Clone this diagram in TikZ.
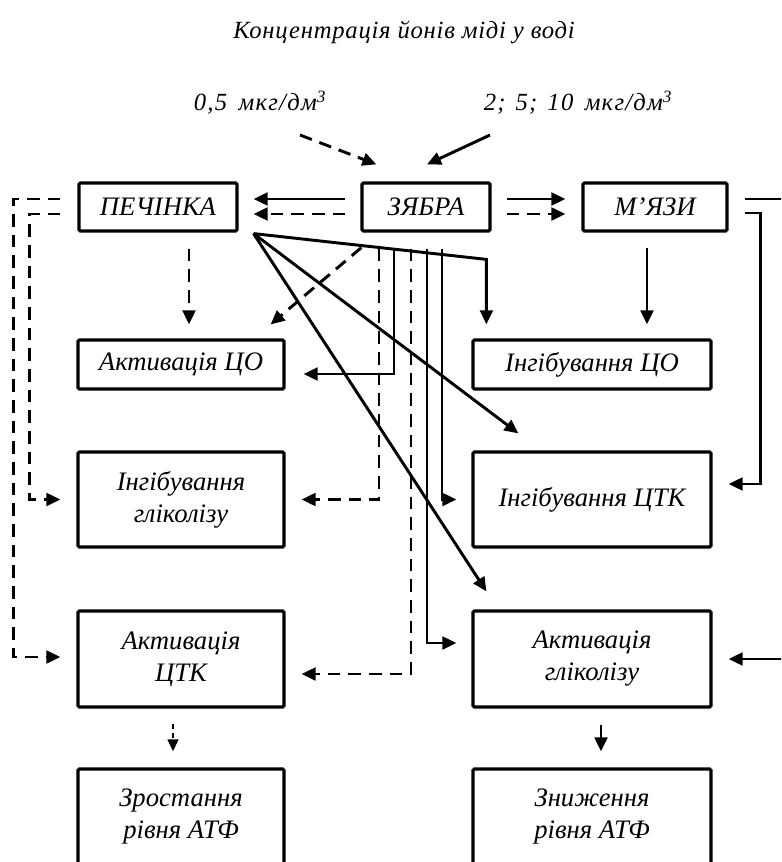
\documentclass[tikz,border=0pt]{standalone}
\usepackage{fontspec}
\setmainfont{Liberation Serif}
\usetikzlibrary{arrows.meta,calc}

\newcommand{\blokfont}{\fontsize{20}{24}\selectfont\itshape}
\newcommand{\ttlfont}{\fontsize{18.5}{22}\selectfont\itshape\addfontfeature{LetterSpace=3}}
\newcommand{\lblfont}{\fontsize{18.5}{22}\selectfont\itshape\addfontfeature{LetterSpace=5}}

\tikzset{
  blok/.style={draw, line width=2.4pt, rounded corners=1pt, inner sep=0pt, align=center, font=\blokfont},
  lin/.style={line width=2.2pt, -{Triangle[length=10.5pt,width=9.5pt]}},
  dsh/.style={line width=2.2pt, dash pattern=on 9.5pt off 6pt},
  dshs/.style={line width=1.6pt, dash pattern=on 4pt off 3pt, -{Triangle[length=9pt,width=8pt]}},
}

\begin{document}
\begin{tikzpicture}[x=0.75pt,y=0.75pt,yscale=-1,xscale=1]
        \clip (0,0) rectangle (781,862);

        % texts on top
        \node [font=\ttlfont, anchor=base] (title) at (404,39) {Концентрація йонів міді у воді};
        \node [font=\lblfont, anchor=base] (low) at (260,111) {0,5\hspace{3pt} мкг/дм\textsuperscript{3}};
        \node [font=\lblfont, anchor=base] (high) at (578,111) {2;\hspace{2pt} 5;\hspace{2pt} 10\hspace{3pt} мкг/дм\textsuperscript{3}};
        \coordinate (lowend) at (300,135);
        \coordinate (highend) at (490,135);

        % organs
        \node [blok, minimum width=118.5pt, minimum height=36pt] (pech) at (158,207) {ПЕЧІНКА};
        \node [blok, minimum width=96pt, minimum height=36pt] (zyab) at (426,207) {ЗЯБРА};
        \node [blok, minimum width=108pt, minimum height=36pt] (myaz) at (655,207) {М'ЯЗИ};

        % effects
        \node [blok, minimum width=154.5pt, minimum height=36.75pt] (aktCO) at (181,364.5) {Активація ЦО};
        \node [blok, minimum width=178.5pt, minimum height=36.75pt] (ingCO) at (592,364.5) {Інгібування ЦО};
        \node [blok, minimum width=154.5pt, minimum height=71.25pt] (ingGl) at (181,499.5) {Інгібування\\гліколізу};
        \node [blok, minimum width=178.5pt, minimum height=71.25pt] (ingCTK) at (592,499.5) {Інгібування ЦТК};
        \node [blok, minimum width=154.5pt, minimum height=72pt] (aktCTK) at (181,659) {Активація\\ЦТК};
        \node [blok, minimum width=178.5pt, minimum height=72pt] (aktGl) at (592,659) {Активація\\гліколізу};
        \node [blok, minimum width=154.5pt, minimum height=71.25pt] (zrost) at (181,816.5) {Зростання\\рівня АТФ};
        \node [blok, minimum width=178.5pt, minimum height=71.25pt] (znyzh) at (592,816.5) {Зниження\\рівня АТФ};

        % into gills
        \draw [lin, dsh] (lowend) -- ($(zyab.north west)+(16,-17)$);
        \draw [lin] (highend) -- ($(zyab.north)+(1,-17)$);

        % gills to liver and muscles
        \draw [lin] ($(zyab.west)+(-15,-8)$) -- ($(pech.east)+(15,-8)$);
        \draw [lin, dsh] ($(zyab.west)+(-15,7)$) -- ($(pech.east)+(15,7)$);
        \draw [lin] ($(zyab.east)+(15,-8)$) -- ($(myaz.west)+(-16,-8)$);
        \draw [lin, dsh] ($(zyab.east)+(15,7)$) -- ($(myaz.west)+(-16,7)$);

        % liver
        \draw [lin, dsh] ($(pech.south)+(31,16)$) -- ($(aktCO.north)+(8,-14)$);
        \coordinate (hub) at ($(pech.south east)+(15,1)$);
        \draw [lin] (hub) -- ($(ingCO.north west)+(15,-79)$) -- ($(ingCO.north west)+(15,-14)$);
        \draw [lin] (hub) -- ($(ingCTK.north west)+(47,-17)$);
        \draw [lin] (hub) -- ($(aktGl.north west)+(15,-18)$);
        \draw [lin, dsh] ($(pech.west)+(-17,-8)$) -| ($(aktCTK.west)+(-63,-2)$) -- ($(aktCTK.west)+(-16,-2)$);
        \draw [lin, dsh] ($(pech.west)+(-17,7)$) -| ($(ingGl.west)+(-47,0)$) -- ($(ingGl.west)+(-16,0)$);

        % gills down
        \draw [lin, dsh] ($(zyab.south west)+(1,15)$) -- ($(aktCO.north east)+(-15,-14)$);
        \draw [lin, dsh] ($(zyab.south)+(-47,16)$) |- ($(ingGl.east)+(16,0)$);
        \draw [lin] ($(zyab.south)+(-32,16)$) |- ($(aktCO.east)+(18,9.5)$);
        \draw [lin, dsh] ($(zyab.south)+(-15,16)$) |- ($(aktCTK.east)+(16,15)$);
        \draw [lin] ($(zyab.south)+(1,16)$) |- ($(aktGl.west)+(-15,-16)$);
        \draw [lin] ($(zyab.south)+(16,16)$) |- ($(ingCTK.west)+(-15,0)$);

        % muscles
        \draw [lin] ($(myaz.south)+(-8,15)$) -- ($(ingCO.north)+(55,-14)$);
        \draw [lin] ($(myaz.east)+(16,-8)$) -| ($(aktGl.east)+(100,0)$) -- ($(aktGl.east)+(16,0)$);
        \draw [lin] ($(myaz.east)+(16,6)$) -| ($(ingCTK.east)+(48,-15.5)$) -- ($(ingCTK.east)+(16,-15.5)$);

        % ATP
        \draw [dshs] ($(aktCTK.south)+(-8,15)$) -- ($(zrost.north)+(-8,-16)$);
        \draw [lin] ($(aktGl.south)+(9,16)$) -- ($(znyzh.north)+(9,-16)$);
    \end{tikzpicture}
\end{document}
